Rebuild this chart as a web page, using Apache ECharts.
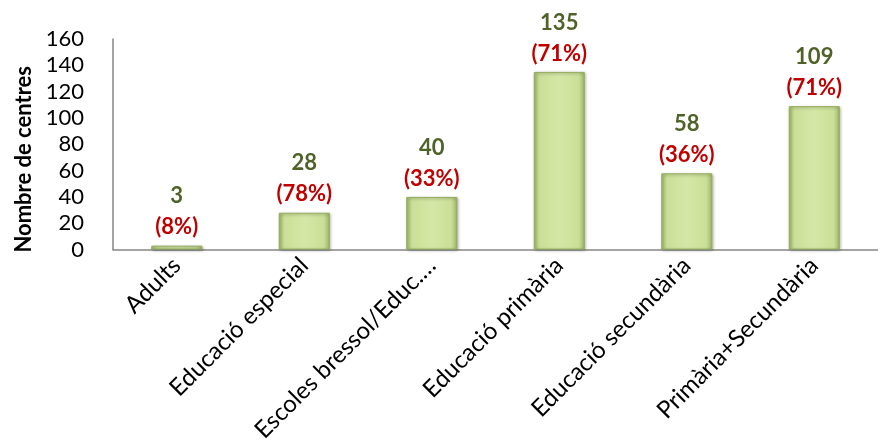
<!DOCTYPE html>
<html><head><meta charset="utf-8">
<script src="https://cdn.jsdelivr.net/npm/echarts@6/dist/echarts.min.js"></script>
<style>html,body{margin:0;padding:0;background:#fff}#c{width:878px;height:445px}</style>
</head><body><div id="c"></div>
<script>
const categories = ["Adults", "Educació especial", "Escoles bressol/Educ.…", "Educació primària", "Educació secundària", "Primària+Secundària"];
const values = [3, 28, 40, 135, 58, 109];
const percents = ["(8%)", "(78%)", "(33%)", "(71%)", "(36%)", "(71%)"];
const yTicks = { min: 0, max: 160, interval: 20 };

const chart = echarts.init(document.getElementById('c'));
const FONT = 'Lato';
chart.setOption({
  animation: false,
  grid: { left: 113, top: 39, bottom: 195, right: -11, containLabel: false },
  xAxis: {
    type: 'category', data: categories,
    axisLine: { lineStyle: { color: '#868686', width: 1.5 } },
    axisTick: { show: false },
    axisLabel: { rotate: 45, interval: 0, color: '#000', fontFamily: FONT, fontSize: 24, margin: 12 }
  },
  yAxis: {
    type: 'value', min: yTicks.min, max: yTicks.max, interval: yTicks.interval,
    name: 'Nombre de centres', nameLocation: 'middle', nameGap: 77,
    nameTextStyle: { fontFamily: FONT, fontWeight: 'bold', fontSize: 22, color: '#000', padding: [0, 30, 0, 0] },
    axisLine: { show: true, lineStyle: { color: '#868686', width: 1.5 } },
    axisTick: { show: false },
    splitLine: { show: false },
    axisLabel: { color: '#000', fontFamily: FONT, fontSize: 22, margin: 29 }
  },
  series: [{
    type: 'bar', barWidth: 51,
    data: values,
    itemStyle: {
      color: new echarts.graphic.LinearGradient(0, 0, 1, 0, [
        { offset: 0, color: '#A6BF6C' }, { offset: 0.12, color: '#CBDF98' },
        { offset: 0.5, color: '#D5E7A6' }, { offset: 0.88, color: '#CBDF98' }, { offset: 1, color: '#9FB866' }
      ]),
      borderColor: '#94AD5C', borderWidth: 1,
      shadowColor: 'rgba(0,0,0,0.35)', shadowBlur: 3, shadowOffsetX: 1, shadowOffsetY: 1
    },
    label: {
      show: true, position: 'top', distance: 3,
      formatter: p => '{v|' + values[p.dataIndex] + '}\n{p|' + percents[p.dataIndex] + '}',
      rich: {
        v: { color: '#4F6228', fontFamily: FONT, fontWeight: 'bold', fontSize: 22, lineHeight: 31 },
        p: { color: '#C00000', fontFamily: FONT, fontWeight: 'bold', fontSize: 22, lineHeight: 31 }
      }
    }
  }]
});
</script></body></html>
